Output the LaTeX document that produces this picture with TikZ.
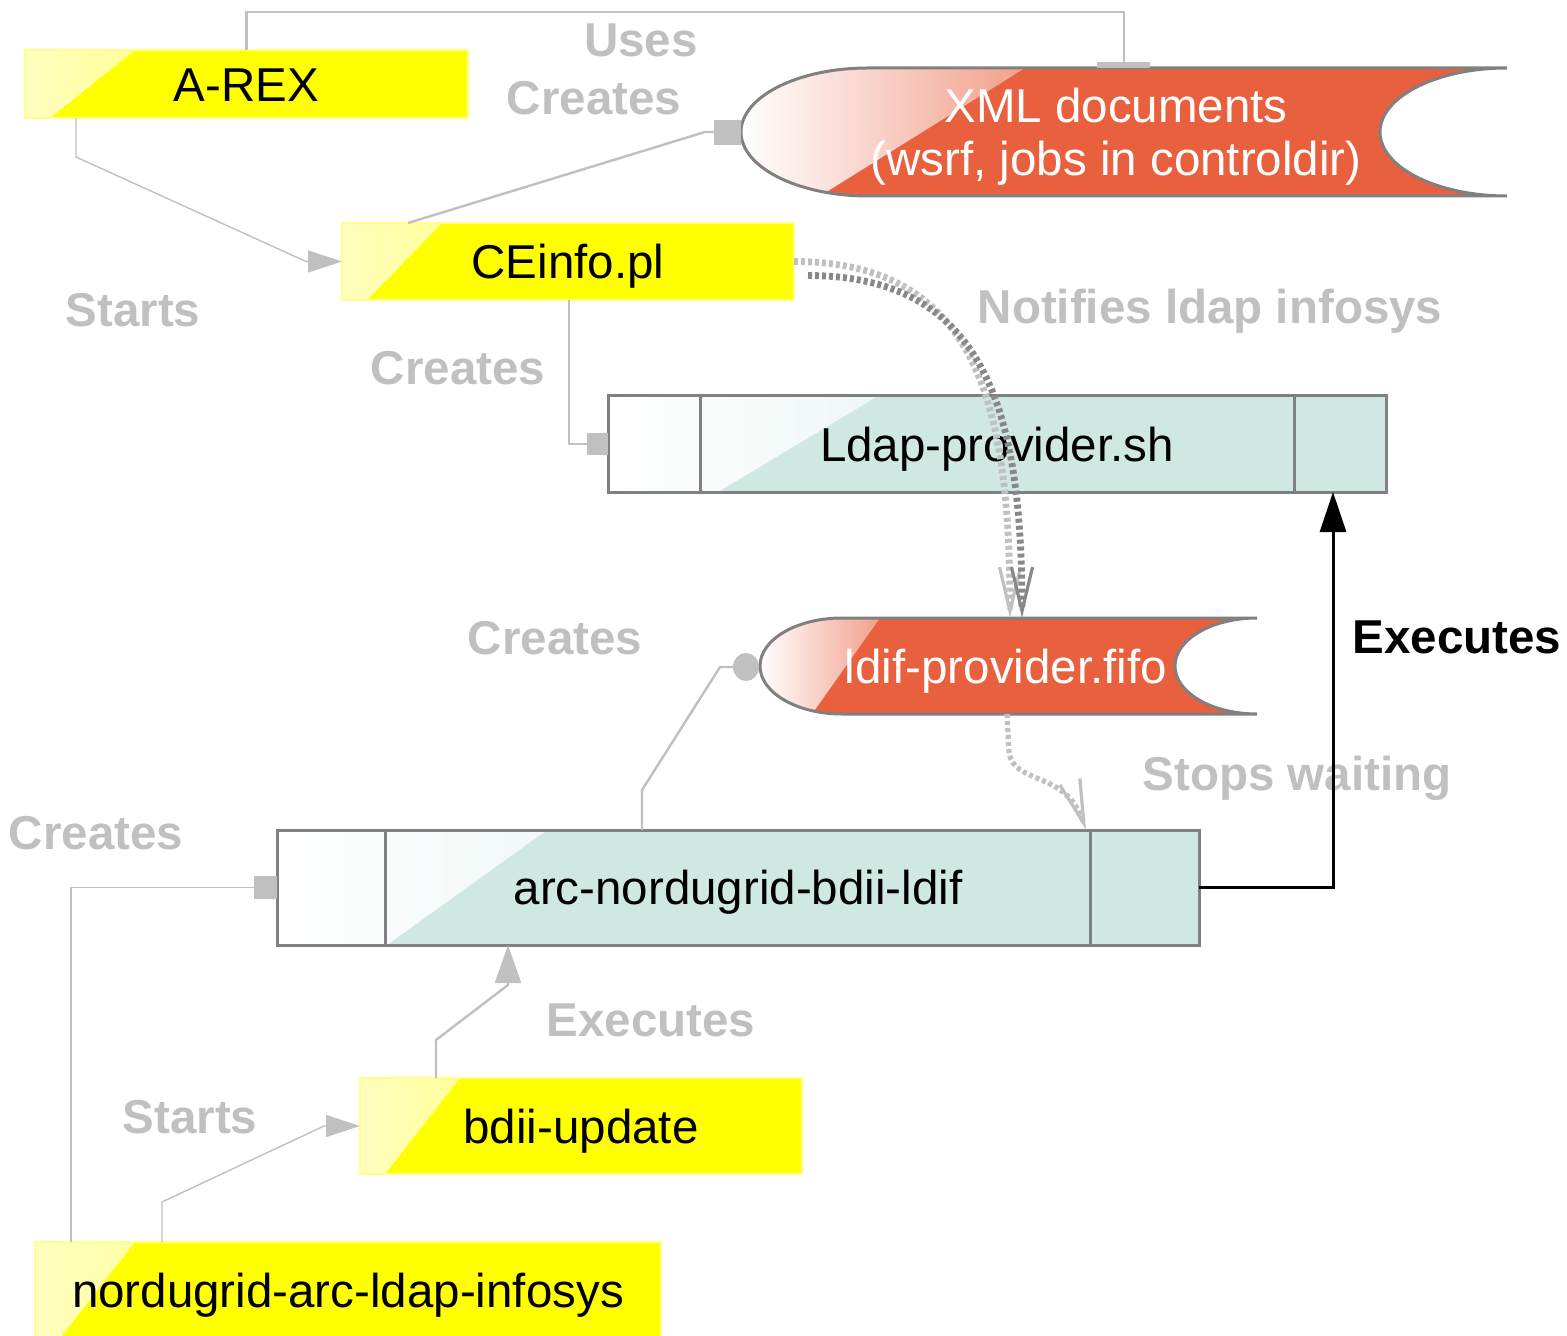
\documentclass[tikz,border=0pt]{standalone}
\usepackage{fontspec}
\setmainfont{Liberation Sans}
\usetikzlibrary{arrows.meta,calc}
\definecolor{byellow}{HTML}{FFFF00}
\definecolor{borange}{HTML}{E9603E}
\definecolor{bteal}{HTML}{D0E8E4}
\definecolor{bline}{HTML}{808080}
\definecolor{lgray}{HTML}{C0C0C0}
\definecolor{dgray}{HTML}{888888}
\tikzset{
  nfont/.style={font=\fontsize{23.75pt}{26.5pt}\selectfont},
  lblfont/.style={font=\fontsize{23.75pt}{26.5pt}\selectfont\bfseries},
  boxbase/.style={nfont, inner sep=0pt, outer sep=0pt, text height=17.3pt, text depth=0pt},
  ybox/.style={boxbase, fill=byellow, draw=byellow!45!white, line width=0.8pt,
    path picture={\shade[left color=byellow!25!white, right color=byellow!85!white]
      (path picture bounding box.north west) -- ($(path picture bounding box.north west)+(#1,0)$)
      -- ($(path picture bounding box.south west)+(25,0)$) -- (path picture bounding box.south west) -- cycle;}},
  ybox/.default=110,
  tbox/.style={boxbase, fill=bteal, draw=bline, line width=1.5pt,
    path picture={\shade[left color=white, right color=bteal]
      (path picture bounding box.north west) -- ($(path picture bounding box.north west)+(270,0)$)
      -- ($(path picture bounding box.south west)+(110,0)$) -- (path picture bounding box.south west) -- cycle;}},
  sbox/.style={boxbase, draw=none, fill=none},
  tline/.style={draw=bline, line width=1.5pt},
  sborder/.style={draw=bline, line width=1.5pt},
  glabel/.style={lblfont, text=lgray, inner sep=0pt, anchor=base},
  blabel/.style={lblfont, text=black, inner sep=0pt, anchor=base},
  lgline/.style={draw=lgray, line width=1.2pt},
  lgthin/.style={draw=lgray, line width=0.7pt},
  gtri/.style={-{Triangle[length=17pt,width=11pt,fill=lgray]}},
  notif/.style={line width=3.4pt, dash pattern=on 2pt off 1.5pt,
    -{Straight Barb[length=22pt,width=10.5pt,line width=1.6pt]}},
}
\begin{document}
\begin{tikzpicture}[x=0.5pt,y=-0.5pt]
\fill[white] (0,0) rectangle (1567,1336);
\useasboundingbox (0,0) rectangle (1567,1336);

% XML documents shape
\begin{scope}
\clip (868,68) -- (1507,68) .. controls (1436.9,68) and (1380,96.7) .. (1380,132) .. controls (1380,167.3) and (1436.9,196) .. (1507,196) -- (868,196) .. controls (797.9,196) and (741,167.3) .. (741,132) .. controls (741,96.7) and (797.9,68) .. (868,68) -- cycle;
\fill[borange] (741,68) rectangle (1507,196);
\shade[left color=white, right color=borange!60!white] (741,68) -- (1025,68) -- (820,196) -- (741,196) -- cycle;
\end{scope}
\draw[sborder] (868,68) -- (1507,68) .. controls (1436.9,68) and (1380,96.7) .. (1380,132) .. controls (1380,167.3) and (1436.9,196) .. (1507,196) -- (868,196) .. controls (797.9,196) and (741,167.3) .. (741,132) .. controls (741,96.7) and (797.9,68) .. (868,68) -- cycle;

% ldif-provider.fifo shape
\begin{scope}
\clip (842,618) -- (1257,618) .. controls (1211.7,618) and (1175,639.5) .. (1175,666) .. controls (1175,692.5) and (1211.7,714) .. (1257,714) -- (842,714) .. controls (796.7,714) and (760,692.5) .. (760,666) .. controls (760,639.5) and (796.7,618) .. (842,618) -- cycle;
\fill[borange] (760,618) rectangle (1257,714);
\shade[left color=white, right color=borange!60!white] (760,618) -- (880,618) -- (812,714) -- (760,714) -- cycle;
\end{scope}
\draw[sborder] (842,618) -- (1257,618) .. controls (1211.7,618) and (1175,639.5) .. (1175,666) .. controls (1175,692.5) and (1211.7,714) .. (1257,714) -- (842,714) .. controls (796.7,714) and (760,692.5) .. (760,666) .. controls (760,639.5) and (796.7,618) .. (842,618) -- cycle;

% nodes
\node[ybox=110, minimum width=221.5pt, minimum height=34pt] (arex) at (246.5,84) {A-REX};
\node[ybox=100, minimum width=226pt, minimum height=38.5pt] (ce) at (568,261.5) {CEinfo.pl};
\node[tbox, minimum width=389pt, minimum height=48pt] (ldap) at (997,444) {Ldap-provider.sh};
\draw[tline] ($(ldap.north west)+(92,0)$) -- ($(ldap.south west)+(92,0)$);
\draw[tline] ($(ldap.north east)+(-92,0)$) -- ($(ldap.south east)+(-92,0)$);
\node[sbox, minimum width=383pt, minimum height=64pt] (xml) at (1124,132) {};
\node[nfont, text=white, align=center, anchor=base, inner sep=0pt] (xmltext) at (1116,176) {XML documents\\(wsrf, jobs in controldir)};
\node[sbox, text=white, minimum width=248.5pt, minimum height=48pt] (fifo) at (1006,666) {ldif-provider.fifo};
\node[tbox, minimum width=461pt, minimum height=57.5pt] (arc) at (738,887.5) {arc-nordugrid-bdii-ldif};
\draw[tline] ($(arc.north west)+(108,0)$) -- ($(arc.south west)+(108,0)$);
\draw[tline] ($(arc.north east)+(-109,0)$) -- ($(arc.south east)+(-109,0)$);
\node[ybox=100, minimum width=221pt, minimum height=48pt] (bdii) at (581,1126) {bdii-update};
\node[ybox=100, minimum width=313pt, minimum height=48pt] (nord) at (348,1290) {nordugrid-arc-ldap-infosys};

% labels
\node[glabel] (lUses) at (641,57) {Uses};
\node[glabel] (lCre1) at (594,115) {Creates};
\node[glabel] (lSta1) at (133,327) {Starts};
\node[glabel] (lCre2) at (458,385) {Creates};
\node[glabel] (lNoti) at (1210,324) {Notifies ldap infosys};
\node[glabel] (lCre3) at (555,654) {Creates};
\node[blabel] (lExe1) at (1457,653) {Executes};
\node[glabel] (lStop) at (1297,790) {Stops waiting};
\node[glabel] (lCre4) at (96,849) {Creates};
\node[glabel] (lExe2) at (651,1036) {Executes};
\node[glabel] (lSta2) at (190,1133) {Starts};

% connectors
% Uses
\draw[lgline] (arex.north) |- ($(xml.north)+(0,-56)$) -- ($(xml.north)+(0,-6)$);
\fill[lgray] ($(xml.north)+(-27,-6)$) rectangle ($(xml.north)+(26,0)$);
% Creates CE -> XML
\draw[lgline] ($(ce.north west)+(66,0)$) -- ($(xml.west)+(-36,0)$) -- ($(xml.west)+(-27,0)$);
\fill[lgray] ($(xml.west)+(-27,-12)$) rectangle ($(xml.west)+(0,13)$);
% Starts A-REX -> CE
\draw[lgthin, gtri] ($(arex.south west)+(51,0)$) -- ++(0,39) -- ($(ce.west)+(-36,0)$) -- (ce.west);
% Creates CE -> Ldap
\draw[lgline] ($(ce.south)+(1,0)$) |- ($(ldap.west)+(-21,0)$);
\fill[lgray] ($(ldap.west)+(-21,-11)$) rectangle ($(ldap.west)+(0,11)$);
% Notifies
\draw[notif, draw=lgray] (ce.east) .. controls (975,262) and (1010,400) .. (1010,618);
\draw[notif, draw=dgray] ($(ce.east)+(14,14)$) .. controls (985,276) and (1022,410) .. (1022,618);
% Creates arc -> fifo
\draw[lgline] ($(arc.north west)+(365,0)$) -- ++(0,-40) -- (720,667) -- (733,667);
\fill[lgray] (746,667) ellipse [x radius=6.5pt, y radius=7pt];
% Stops waiting
\draw[notif, draw=lgray, line width=2.6pt] (1007,714) -- (1009,752) .. controls (1013,785) and (1066,770) .. ($(arc.north east)+(-113,0)$);
% Executes (black)
\draw[black, line width=1.5pt, -{Triangle[length=20pt,width=13pt]}] (arc.east) -| ($(ldap.south east)+(-53,0)$);
% Creates nord -> arc
\draw[lgthin] ($(nord.north west)+(36,0)$) |- ($(arc.west)+(-23,0)$);
\fill[lgray] ($(arc.west)+(-23,-11.5)$) rectangle ($(arc.west)+(0,11.5)$);
% Executes bdii -> arc
\draw[lgline, -{Triangle[length=19pt,width=13pt,fill=lgray]}] ($(bdii.north west)+(76,0)$) -- ++(0,-38) -- ($(arc.south west)+(231,40)$) -- ($(arc.south west)+(231,0)$);
% Starts nord -> bdii
\draw[lgthin, gtri] ($(nord.north west)+(127,0)$) -- ++(0,-40) -- ($(bdii.west)+(-36,0)$) -- (bdii.west);
\end{tikzpicture}
\end{document}
